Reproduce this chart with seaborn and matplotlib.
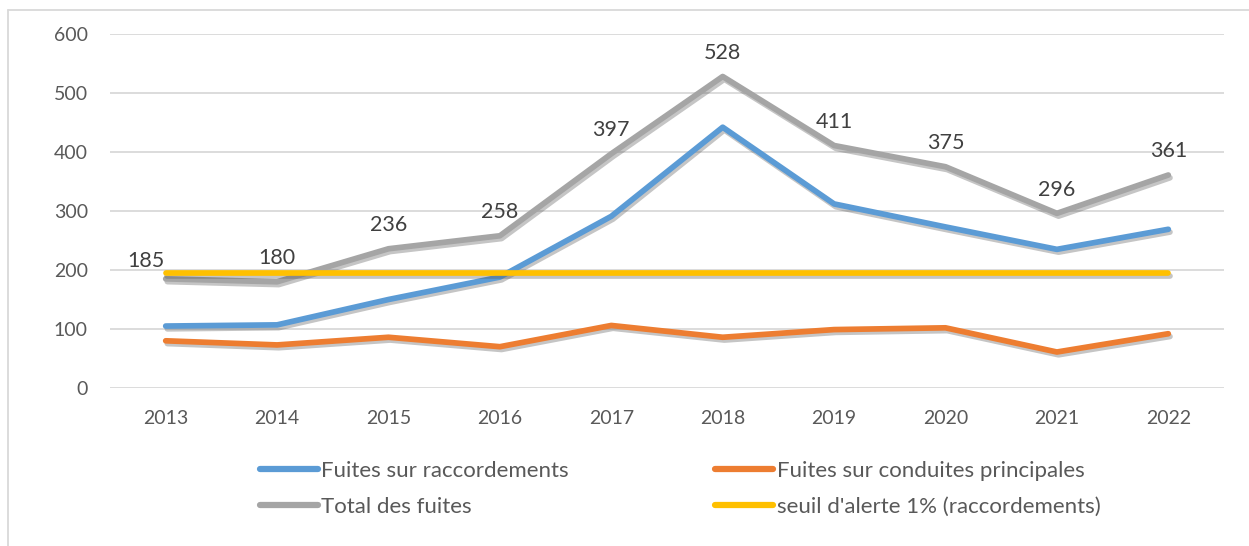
import pandas as pd
import seaborn as sns
import matplotlib.pyplot as plt
import matplotlib.patheffects as pe
from matplotlib.lines import Line2D

# values
years = [2013, 2014, 2015, 2016, 2017, 2018, 2019, 2020, 2021, 2022]
raccordements = [105, 107, 150, 188, 291, 442, 312, 273, 235, 269]
conduites = [80, 73, 86, 70, 106, 86, 99, 102, 61, 92]
total = [185, 180, 236, 258, 397, 528, 411, 375, 296, 361]
seuil = [195, 195, 195, 195, 195, 195, 195, 195, 195, 195]

series_names = ["Fuites sur raccordements", "Fuites sur conduites principales",
                "Total des fuites", "seuil d'alerte 1% (raccordements)"]
colors = ["#5b9bd5", "#ed7d31", "#a5a5a5", "#ffc000"]

# long format table for seaborn
frames = []
for name, vals in zip(series_names, [raccordements, conduites, total, seuil]):
    frames.append(pd.DataFrame({"x": range(len(years)), "value": vals, "serie": name}))
df = pd.concat(frames, ignore_index=True)

sns.set_theme(style="white")
plt.rcParams['font.family'] = ['Lato', 'DejaVu Sans']
text_col = "#595959"

fig = plt.figure(figsize=(12.49, 5.46), dpi=100)
ax = fig.add_axes([110 / 1249, 1 - 388 / 546, (1224 - 110) / 1249, (388 - 34) / 546])

sns.lineplot(data=df, x="x", y="value", hue="serie", hue_order=series_names,
             palette=colors, linewidth=4.1, ax=ax, legend=False, sort=False)

shadow = [pe.SimpleLineShadow(offset=(1.2, -2.0), shadow_color="#595959", alpha=0.35),
          pe.Normal()]
for line in ax.lines:
    line.set_solid_capstyle("round")
    line.set_solid_joinstyle("round")
    line.set_path_effects(shadow)

# data labels on the total
for i, v in enumerate(total):
    dx = -14 if i == 0 else 0
    dy = 13 if i == 0 else 17
    ax.annotate(str(v), (i, v), xytext=(dx, dy), textcoords="offset points",
                ha="center", va="center", fontsize=15.5, color="#404040")

ax.set_xlim(-0.5, len(years) - 0.5)
ax.set_ylim(0, 600)
ax.set_yticks([0, 100, 200, 300, 400, 500, 600])
ax.set_xticks(range(len(years)))
ax.set_xticklabels([str(y) for y in years])
ax.set_xlabel("")
ax.set_ylabel("")
ax.grid(axis="y", color="#d9d9d9", linewidth=1.3)
ax.set_axisbelow(True)
for s in ax.spines.values():
    s.set_visible(False)
ax.tick_params(axis="y", length=0, pad=16, labelsize=14, labelcolor=text_col)
ax.tick_params(axis="x", length=0, pad=16, labelsize=14, labelcolor=text_col)

# legend (row order: blue/orange, grey/yellow)
handles = [Line2D([], [], color=c, linewidth=4.5, solid_capstyle="round") for c in colors]
order = [0, 2, 1, 3]
fig.legend([handles[i] for i in order], [series_names[i] for i in order],
           loc="upper left", bbox_to_anchor=(240 / 1249, 1 - 441 / 546), ncol=2,
           frameon=False, fontsize=16, handlelength=2.6, handletextpad=0.15,
           columnspacing=6.6, labelspacing=0.72, labelcolor=text_col)

# chart frame
frame_col = "#d9d9d9"
fig.add_artist(Line2D([8 / 1249, 8 / 1249], [0, 1 - 10 / 546], color=frame_col, linewidth=1.3))
fig.add_artist(Line2D([8 / 1249, 1], [1 - 10 / 546, 1 - 10 / 546], color=frame_col, linewidth=1.3))

fig.savefig("out.png", dpi=100, facecolor="white")
